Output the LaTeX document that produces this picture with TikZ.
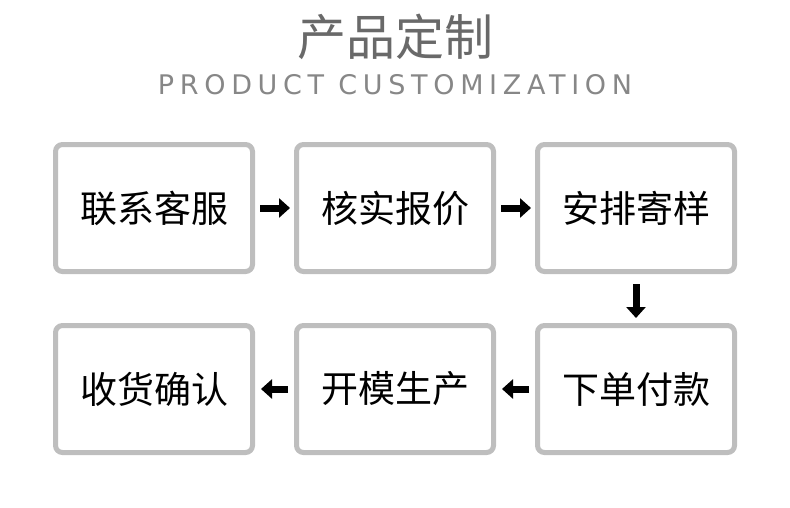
\documentclass[tikz,border=0pt]{standalone}
\usepackage{fontspec}
\usepackage{xcolor}
\usetikzlibrary{arrows.meta,positioning}
\newfontfamily\cjk{Noto Sans CJK SC}
\newfontfamily\latinfont[LetterSpace=21]{DejaVu Sans}
\definecolor{boxgray}{RGB}{190,190,190}
\definecolor{titlegray}{RGB}{105,105,105}

\begin{document}
\begin{tikzpicture}[x=1pt,y=-1pt,
    stepbox/.style={draw=boxgray,line width=5pt,rounded corners=7pt,fill=white,
        minimum width=197pt,minimum height=127pt,font=\cjk\fontsize{37}{37}\selectfont},
    flow/.style={line width=7pt,-{Triangle[length=11pt,width=19pt]}}]
    \useasboundingbox (0,0) rectangle (790,507);
    \node[text=titlegray,font=\cjk\fontsize{49}{49}\selectfont] (title) at (395,37) {产品定制};
    \node[text=titlegray!80,font=\latinfont\fontsize{27}{27}\selectfont] (sub) at (395,85) {PRODUCT CUSTOMIZATION};
    % first row
    \node[stepbox] (lianxi) at (154,208) {联系客服};
    \node[stepbox] (hesh) at (395,208) {核实报价};
    \node[stepbox] (anpai) at (636,208) {安排寄样};
    % second row
    \node[stepbox] (shouhuo) at (154,389) {收货确认};
    \node[stepbox] (kaimo) at (395,389) {开模生产};
    \node[stepbox] (xiadan) at (636,389) {下单付款};
    % arrows
    \draw[flow] ([xshift=5pt]lianxi.east) -- ([xshift=-4pt]hesh.west);
    \draw[flow] ([xshift=5pt]hesh.east) -- ([xshift=-4pt]anpai.west);
    \draw[flow] ([yshift=-10pt]anpai.south) -- ([yshift=5pt]xiadan.north);
    \draw[flow] ([xshift=-6pt]xiadan.west) -- ([xshift=6pt]kaimo.east);
    \draw[flow] ([xshift=-6pt]kaimo.west) -- ([xshift=6pt]shouhuo.east);
\end{tikzpicture}
\end{document}
